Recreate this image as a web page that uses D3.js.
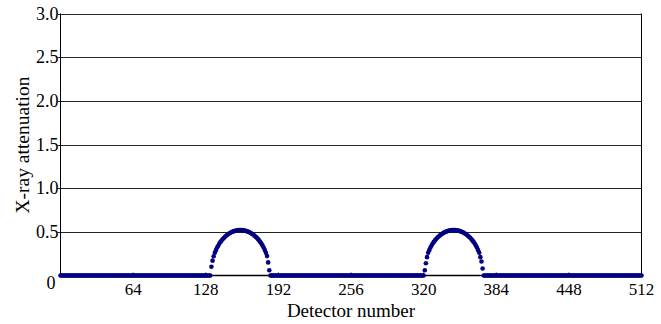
<!DOCTYPE html>
<html><head><meta charset="utf-8">
<script src="https://cdn.jsdelivr.net/npm/d3@7"></script>
<style>body{margin:0;background:#fff}svg{display:block}</style>
</head><body><svg id="c" width="661" height="324"></svg>
<script>
const detectorCount = 512;
const xTicks = [64, 128, 192, 256, 320, 384, 448, 512];
const yTicks = [0.5, 1.0, 1.5, 2.0, 2.5, 3.0];
const bump1Start = 133;
const bump1Values = [0.10,0.17,0.22,0.26,0.29,0.32,0.34,0.365,0.385,0.40,0.417,0.43,0.444,0.456,0.466,0.476,0.484,0.491,0.498,0.503,0.508,0.512,0.515,0.518,0.519,0.52,
  0.52,0.519,0.518,0.515,0.512,0.508,0.503,0.498,0.491,0.484,0.476,0.466,0.456,0.444,0.432,0.417,0.402,0.385,0.365,0.344,0.32,0.292,0.261,0.222,0.15,0.06];
const bump2Start = 321;
const bump2Values = [0.06,0.14,0.21,0.26,0.29,0.32,0.344,0.365,0.385,0.402,0.417,0.432,0.444,0.456,0.466,0.476,0.484,0.491,0.498,0.503,0.508,0.512,0.515,0.518,0.519,0.52,
  0.52,0.519,0.518,0.515,0.512,0.508,0.503,0.498,0.491,0.484,0.476,0.466,0.456,0.444,0.432,0.417,0.402,0.385,0.365,0.344,0.32,0.29,0.26,0.21,0.16,0.08];

const data = [];
for (let i = 0; i <= detectorCount; i++) {
  let v = 0;
  if (i >= bump1Start && i < bump1Start + bump1Values.length) v = bump1Values[i - bump1Start];
  if (i >= bump2Start && i < bump2Start + bump2Values.length) v = bump2Values[i - bump2Start];
  data.push({d: i, v: v});
}

const FONT = "Liberation Serif";
const svg = d3.select("#c");
const L = 60.5, R = 641.5, T = 13.5, B = 275.5;
const x = d3.scaleLinear().domain([0, 512]).range([L, R]);
const y = d3.scaleLinear().domain([0, 3]).range([B, T]);

// gridlines
svg.append("g").selectAll("line").data(yTicks).join("line")
  .attr("x1", L - 3).attr("x2", R).attr("y1", d => Math.round(y(d)) + 0.5).attr("y2", d => Math.round(y(d)) + 0.5)
  .attr("stroke", "#222").attr("stroke-width", 1);
// frame
svg.append("line").attr("x1", L).attr("x2", L).attr("y1", T).attr("y2", B).attr("stroke", "#000");
svg.append("line").attr("x1", R).attr("x2", R).attr("y1", T).attr("y2", B).attr("stroke", "#000");
svg.append("line").attr("x1", L).attr("x2", R).attr("y1", B).attr("y2", B).attr("stroke", "#000").attr("stroke-width", 1.5);
// x ticks (inward)
svg.append("g").selectAll("line").data(xTicks).join("line")
  .attr("x1", d => x(d)).attr("x2", d => x(d)).attr("y1", B).attr("y2", B - 3).attr("stroke", "#000");

// y tick labels
svg.append("g").selectAll("text").data(yTicks).join("text")
  .attr("font-family", FONT)
  .attr("x", L - 2).attr("y", d => y(d)).attr("dy", "0.35em").attr("text-anchor", "end")
  .attr("font-size", 18).text(d => d.toFixed(1));
svg.append("text").attr("font-family", FONT).attr("x", 51).attr("y", 283).attr("dy", "0.35em").attr("text-anchor", "middle").attr("font-size", 18).text("0");
// x tick labels
svg.append("g").selectAll("text").data(xTicks).join("text")
  .attr("font-family", FONT)
  .attr("x", d => x(d)).attr("y", 295).attr("text-anchor", "middle")
  .attr("font-size", 17).text(d => d);

// titles
svg.append("text").attr("font-family", FONT).attr("x", 351).attr("y", 317).attr("text-anchor", "middle").attr("font-size", 19).text("Detector number");
svg.append("text").attr("font-family", FONT).attr("transform", "translate(29,145) rotate(-90)").attr("text-anchor", "middle").attr("font-size", 19.5).text("X-ray attenuation");

// points
svg.append("g").selectAll("circle").data(data).join("circle")
  .attr("cx", d => x(d.d)).attr("cy", d => y(d.v)).attr("r", 2.3).attr("fill", "#000080");
</script></body></html>
